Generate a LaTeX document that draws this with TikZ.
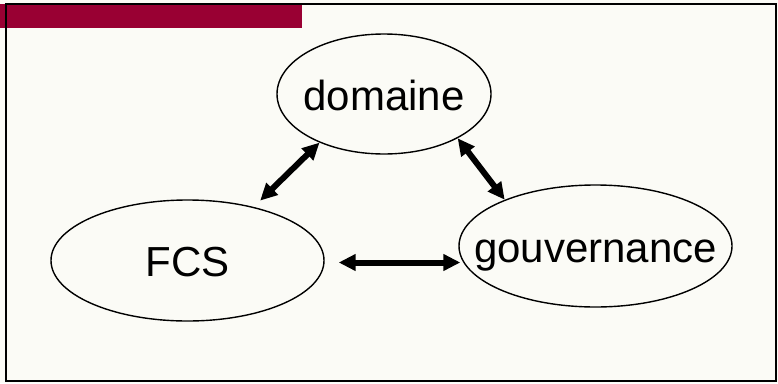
\documentclass[tikz,border=0pt]{standalone}
\usepackage{fontspec}
\setmainfont{Liberation Sans}
\usetikzlibrary{arrows.meta,shapes.geometric}

\definecolor{slidebg}{RGB}{251,251,246}
\definecolor{barred}{RGB}{153,0,51}

\newcommand{\topictext}[1]{\makebox[0pt]{#1}}

\begin{document}
\begin{tikzpicture}[
  x=1pt, y=-1pt,
  every node/.style={font=\fontsize{42}{50}\selectfont},
  topic/.style={ellipse, draw, line width=1.4pt, inner sep=0pt,
                text height=32pt, text depth=0pt},
  link/.style={{Triangle[length=17pt,width=16pt]}-{Triangle[length=17pt,width=16pt]},
               line width=6pt},
  frame/.style={draw, line width=1.6pt},
]
  % Slide background and title bar
  \fill[slidebg] (0,0) rectangle (778,383);
  \useasboundingbox (0,0) rectangle (778,383);
  \fill[barred] (0,4) rectangle (302,28);
  \draw[frame] (6,4) rectangle (776,381);

  % Topics
  \node[topic, minimum width=214pt, minimum height=120pt] (dom) at (384,94) {\topictext{domaine}};
  \node[topic, minimum width=273pt, minimum height=121pt] (fcs) at (187.5,260.5) {\topictext{FCS}};
  \node[topic, minimum width=273pt, minimum height=122pt] (gov) at (595.5,246) {\topictext{gouvernance}};

  % Relations
  \draw[link, shorten >=9pt] (dom.217) -- (fcs.39);
  \draw[link] (dom.329) -- (gov.153);
  \draw[link, shorten <=14pt] ([yshift=-2pt]fcs.east) -- ([yshift=-2pt, xshift=2pt]fcs.east -| gov.west);
\end{tikzpicture}
\end{document}
